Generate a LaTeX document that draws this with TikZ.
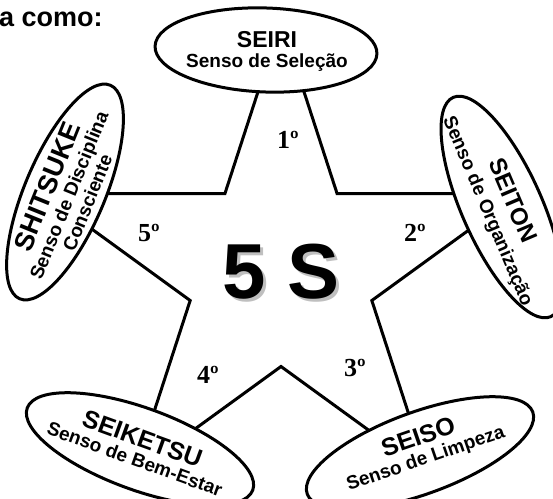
\documentclass[tikz,border=0pt]{standalone}
\usepackage{fontspec}
\setmainfont{Liberation Sans}
\newfontfamily\ordfont{Liberation Serif}
\usetikzlibrary{math}
\usetikzlibrary{shapes.geometric}

\begin{document}
\begin{tikzpicture}[x=1pt,y=1pt,
  senso/.style={ellipse, draw, fill=white, line width=3, inner sep=0pt},
  nome/.style={align=center, inner sep=0pt, font=\bfseries\fontsize{19}{20}\selectfont},
  ordem/.style={font=\ordfont\bfseries\fontsize{26}{26}\selectfont}]
\tikzmath{
\R=250;
\r=95.5;
}
\useasboundingbox (0,0) rectangle (553,498);

\node[anchor=base west, inner sep=0pt, font=\bfseries\fontsize{27}{27}\selectfont] (intro) at (-1,471) {a como:};

% estrela
\coordinate (C) at (281,227);
\draw[line width=3, shift={(C)}] (90:\R) \foreach \a in {126,198,270,342,414} { -- (\a:\r) -- (\a+36:\R) };

% os cinco sensos
\node[senso, minimum width=222, minimum height=84, rotate=-2] (seiri) at (266,448) {};
\node[nome] (seiri-txt) at (267,447) {{\fontsize{23}{20}\selectfont SEIRI}\\Senso de Seleção};

\node[senso, minimum width=240, minimum height=80, rotate=-66] (seiton) at (502,291) {};
\node[nome, rotate=-67] (seiton-txt) at (500,292) {{\fontsize{24}{20}\selectfont SEITON}\\[5pt]Senso de Organização};

\node[senso, minimum width=240, minimum height=82, rotate=20] (seiso) at (420,45) {};
\node[nome, rotate=19] (seiso-txt) at (422,50) {{\fontsize{25}{20}\selectfont SEISO}\\Senso de Limpeza};

\node[senso, minimum width=240, minimum height=82, rotate=-20] (seiketsu) at (140,49) {};
\node[nome, rotate=-20] (seiketsu-txt) at (139,50) {{\fontsize{25}{20}\selectfont SEIKETSU}\\Senso de Bem-Estar};

\node[senso, minimum width=232, minimum height=80, rotate=67] (shitsuke) at (65,306) {};
\node[nome, rotate=68] (shitsuke-txt) at (66,304) {{\fontsize{27}{20}\selectfont SHITSUKE}\\[1pt]Senso de Disciplina\\Consciente};

% centro
\node[font=\bfseries\fontsize{78}{78}\selectfont, text=black!25] (cinco-sombra) at (284,223) {5 S};
\node[font=\bfseries\fontsize{78}{78}\selectfont] (cinco) at (281,226) {5 S};

\node[ordem] (p1) at (288,358) {1º};
\node[ordem] (p2) at (415,265) {2º};
\node[ordem] (p3) at (355,130) {3º};
\node[ordem] (p4) at (208,123) {4º};
\node[ordem] (p5) at (149,265) {5º};

\end{tikzpicture}
\end{document}
